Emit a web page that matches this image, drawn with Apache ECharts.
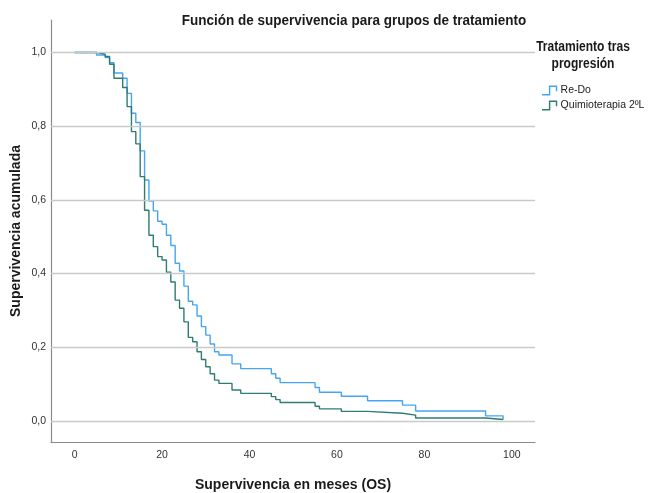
<!DOCTYPE html>
<html>
<head>
<meta charset="utf-8">
<script src="https://cdn.jsdelivr.net/npm/echarts@6/dist/echarts.min.js"></script>
<style>
  html, body { margin: 0; padding: 0; background: #fff; }
  #chart { width: 648px; height: 493px; }
</style>
</head>
<body>
<div id="chart"></div>
<script>
// Kaplan-Meier estimates: month at which each step occurs and the survival from that month on
const redoMonths = [0, 5, 7, 8, 9, 11, 12, 13, 14, 15, 16, 17, 18, 19, 20, 21, 22, 23, 24, 25, 26, 27, 28, 29, 30, 31, 32, 33, 36, 38, 45, 46, 47, 55, 56, 61, 67, 75, 78, 94, 98];
const redoSurv   = [1.0, 0.993, 0.986, 0.972, 0.944, 0.930, 0.889, 0.835, 0.810, 0.733, 0.654, 0.597, 0.570, 0.542, 0.534, 0.504, 0.476, 0.428, 0.407, 0.366, 0.325, 0.315, 0.285, 0.256, 0.233, 0.209, 0.188, 0.179, 0.155, 0.142, 0.128, 0.116, 0.104, 0.091, 0.078, 0.067, 0.055, 0.043, 0.027, 0.014, 0.004];

const quimioMonths = [0, 5, 7, 8, 9, 11, 12, 13, 14, 15, 16, 17, 18, 19, 20, 21, 22, 23, 24, 25, 26, 27, 28, 29, 30, 31, 32, 33, 36, 38, 45, 46, 47, 55, 56, 61, 67, 75, 78, 94, 98];
const quimioSurv   = [1.0, 0.995, 0.989, 0.968, 0.930, 0.905, 0.853, 0.785, 0.752, 0.663, 0.572, 0.504, 0.473, 0.446, 0.437, 0.404, 0.377, 0.328, 0.306, 0.269, 0.227, 0.215, 0.188, 0.167, 0.147, 0.128, 0.111, 0.102, 0.084, 0.075, 0.066, 0.058, 0.050, 0.040, 0.033, 0.026, 0.021, 0.016, 0.008, 0.004, 0.004];

const groupNames = ['Re-Do', 'Quimioterapia 2ºL'];
const groupColors = ['#45a5f2', '#2f7c70'];

const xTicks = [0, 20, 40, 60, 80, 100];
const yTicks = [0, 0.2, 0.4, 0.6, 0.8, 1.0];

const FONT = '"Liberation Sans", Arial, sans-serif';

function pairs(xs, ys) {
  return xs.map((x, i) => [x, ys[i]]);
}
const commaDec = v => v.toFixed(1).replace('.', ',');

// small step-shaped glyph for the legend
const stepIcon = 'path://M0,9 L7.25,9 L7.25,0 L16,0 L16,6 L14.5,6 L14.5,1.5 L8.75,1.5 L8.75,10.5 L0,10.5 Z';

const chart = echarts.init(document.getElementById('chart'), null, { renderer: 'canvas' });

chart.setOption({
  animation: false,
  backgroundColor: '#ffffff',
  textStyle: { fontFamily: FONT },
  grid: { left: 51, top: 20, right: 113, bottom: 51, containLabel: false, outerBoundsMode: 'none' },
  graphic: [
    {
      type: 'text', x: 354, y: 21, scaleX: 0.9,
      style: {
        text: 'Función de supervivencia para grupos de tratamiento',
        font: 'bold 15px ' + FONT, fill: '#1a1a1a',
        textAlign: 'center', textVerticalAlign: 'middle'
      }
    },
    {
      type: 'text', x: 583, y: 56, scaleX: 0.86,
      style: {
        text: 'Tratamiento tras\nprogresión',
        font: 'bold 14px ' + FONT, fill: '#1a1a1a', lineHeight: 17,
        textAlign: 'center', textVerticalAlign: 'middle'
      }
    }
  ],
  legend: {
    orient: 'vertical',
    left: 537, top: 80,
    itemWidth: 18, itemHeight: 10, itemGap: 4,
    icon: stepIcon,
    data: groupNames,
    textStyle: { fontFamily: FONT, fontSize: 10.5, color: '#1a1a1a', padding: [0, 0, 0, -3] }
  },
  xAxis: {
    type: 'value',
    min: -5.4, max: 105.3,
    name: 'Supervivencia en meses (OS)',
    nameLocation: 'middle', nameGap: 36, nameMoveOverlap: false,
    nameTextStyle: { fontFamily: FONT, fontSize: 14, fontWeight: 'bold', color: '#1a1a1a' },
    axisLine: { show: true, onZero: false, lineStyle: { color: '#8a8a8a', width: 1.2 } },
    axisTick: { show: false },
    splitLine: { show: false },
    axisLabel: {
      customValues: xTicks,
      margin: 8, fontSize: 10.5, color: '#333', fontFamily: FONT,
      formatter: v => String(v)
    }
  },
  yAxis: {
    type: 'value',
    min: -0.057, max: 1.088,
    name: 'Supervivencia acumulada',
    nameLocation: 'middle', nameGap: 28, nameRotate: 90, nameMoveOverlap: false,
    nameTextStyle: { fontFamily: FONT, fontSize: 14, fontWeight: 'bold', color: '#1a1a1a' },
    axisLine: { show: true, onZero: false, lineStyle: { color: '#8a8a8a', width: 1.2 } },
    axisTick: { show: false },
    splitLine: { show: false },
    axisLabel: {
      customValues: yTicks,
      margin: 5, fontSize: 10.5, color: '#333', fontFamily: FONT,
      formatter: v => commaDec(v)
    }
  },
  series: [
    {
      // horizontal reference lines at each labelled survival value
      type: 'line', data: [], silent: true,
      markLine: {
        silent: true, symbol: 'none', animation: false,
        label: { show: false },
        lineStyle: { color: '#c9c9c9', width: 1.3, type: 'solid' },
        data: yTicks.map(v => ({ yAxis: v }))
      }
    },
    {
      name: groupNames[0], type: 'line', step: 'end',
      data: pairs(redoMonths, redoSurv),
      showSymbol: false, symbol: 'none',
      color: groupColors[0],
      lineStyle: { color: groupColors[0], width: 1.4 },
      z: 3
    },
    {
      name: groupNames[1], type: 'line', step: 'end',
      data: pairs(quimioMonths, quimioSurv),
      showSymbol: false, symbol: 'none',
      color: groupColors[1],
      lineStyle: { color: groupColors[1], width: 1.4 },
      z: 4
    }
  ]
});
</script>
</body>
</html>
